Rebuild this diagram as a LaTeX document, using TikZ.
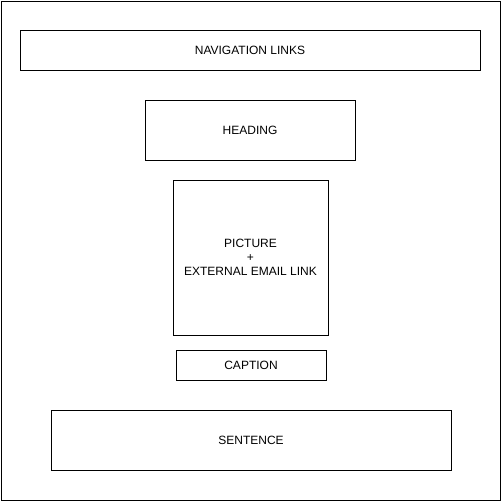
\documentclass[tikz,border=0pt]{standalone}
\usepackage{fontspec}
\setmainfont{Liberation Sans}
\begin{document}
\begin{tikzpicture}[x=1pt,y=-1pt,
  box/.style={draw=black,line width=1pt,fill=white,inner sep=0pt,align=center,font=\fontsize{12}{14}\selectfont}]
\useasboundingbox (0,0) rectangle (501,501);
\node[draw=black,line width=1pt,minimum width=499pt,minimum height=499pt,inner sep=0pt] (frame) at (250.5,250.5) {};
\node[box,minimum width=460pt,minimum height=40pt] (nav) at (250,50) {NAVIGATION LINKS};
\node[box,minimum width=210pt,minimum height=60pt] (head) at (250,130) {HEADING};
\node[box,minimum width=155pt,minimum height=155pt] (pic) at (250.5,257.5) {PICTURE\\+\\EXTERNAL EMAIL LINK};
\node[box,minimum width=150pt,minimum height=30pt] (cap) at (251,365) {CAPTION};
\node[box,minimum width=400pt,minimum height=60pt] (sent) at (251,440) {SENTENCE};
\end{tikzpicture}
\end{document}
